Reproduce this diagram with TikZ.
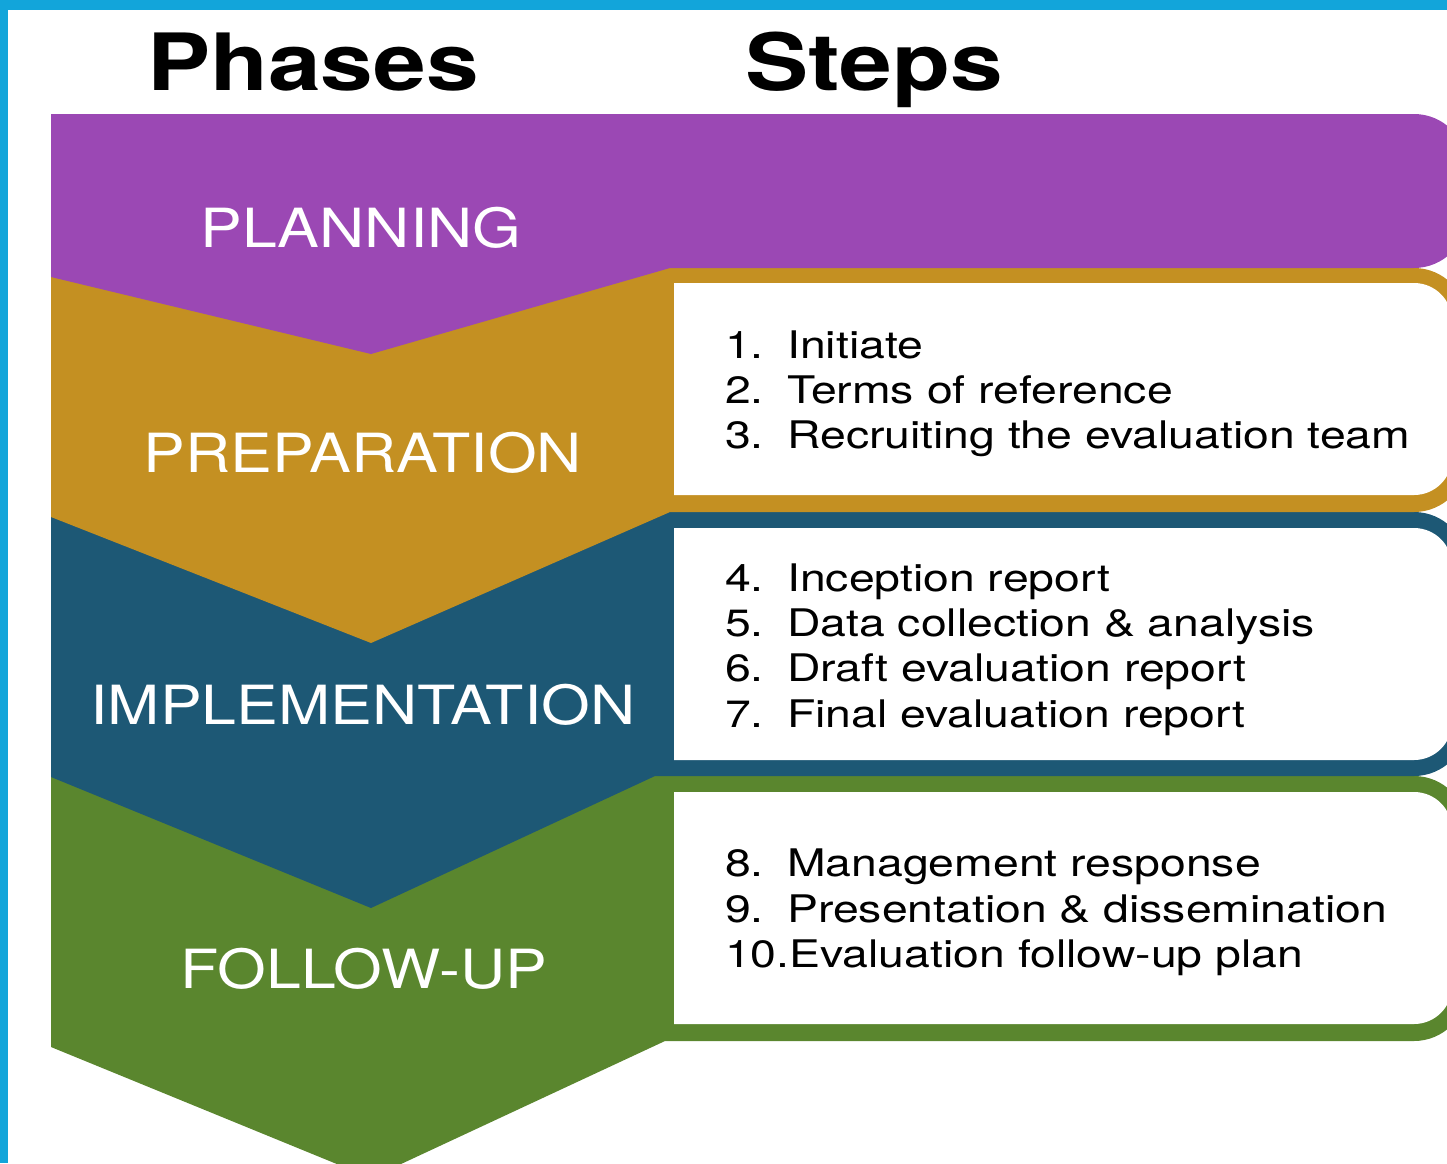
\documentclass[tikz,border=0pt]{standalone}
\usepackage{fontspec}
\newfontfamily\headfont{TeX Gyre Heros}[FakeStretch=1.2]
\newfontfamily\phasefont{TeX Gyre Heros}[FakeStretch=1.16]
\newfontfamily\stepfont{TeX Gyre Heros}[FakeStretch=1.22]
\definecolor{cFrame}{HTML}{12A5DA}
\definecolor{cPurple}{HTML}{9B48B4}
\definecolor{cGold}{HTML}{C49022}
\definecolor{cBlue}{HTML}{1D5875}
\definecolor{cGreen}{HTML}{5A862E}

\newcommand{\phaseband}[6]{%
  \fill[#1] (51,#2) -- (700,#2) [rounded corners=53pt] -- (1467,#2) -- (1467,#3)
    -- (700,#3) [sharp corners] -- (#4,#3) -- (371,#5) -- (51,#6) -- cycle;}
\newcommand{\stepbox}[2]{%
  \fill[white] (674,#1) -- (900,#1) [rounded corners=38pt] -- (1452,#1) -- (1452,#2)
    -- (900,#2) [sharp corners] -- (674,#2) -- cycle;}

\begin{document}
\begin{tikzpicture}[x=1pt,y=-1pt,
    head/.style={font=\headfont\bfseries\fontsize{79}{79}\selectfont,anchor=base},
    phase/.style={text=white,font=\phasefont\fontsize{54}{54}\selectfont,anchor=base},
    item/.style={font=\stepfont\fontsize{38}{38}\selectfont,anchor=base west,inner sep=0pt}]

    \useasboundingbox (0,0) rectangle (1447,1163);
    \fill[cFrame] (0,0) rectangle (1447,10);
    \fill[cFrame] (0,0) rectangle (8,1163);

    \phaseband{cGreen}{776}{1041}{665}{1178}{1047}
    \phaseband{cBlue}{512}{776}{655}{908}{777}
    \phaseband{cGold}{268}{512}{670}{643}{517}
    \phaseband{cPurple}{114}{268}{670}{354}{277}
    \stepbox{283}{495}
    \stepbox{528}{760}
    \stepbox{792}{1024}

    \node[head] (phases) at (313,90) {Phases};
    \node[head] (steps) at (874,90) {Steps};

    \node[phase] (planning) at (361,247) {PLANNING};
    \node[phase] (preparation) at (363,472) {PREPARATION};
    \node[phase] (implementation) at (363,724) {IMPLEMENTATION};
    \node[phase] (followup) at (364,988) {FOLLOW-UP};

    \foreach \n/\y/\t in {1/358/Initiate, 2/403/Terms of reference,
        3/448/Recruiting the evaluation team, 4/591/Inception report,
        5/636/Data collection \& analysis, 6/681/Draft evaluation report,
        7/727/Final evaluation report, 8/876/Management response,
        9/922/Presentation \& dissemination}
      \node[item] (s\n) at (725,\y) {\makebox[62pt][l]{\n.}\t};
    \node[item] (s10) at (725,967) {10.Evaluation follow-up plan};

\end{tikzpicture}
\end{document}
